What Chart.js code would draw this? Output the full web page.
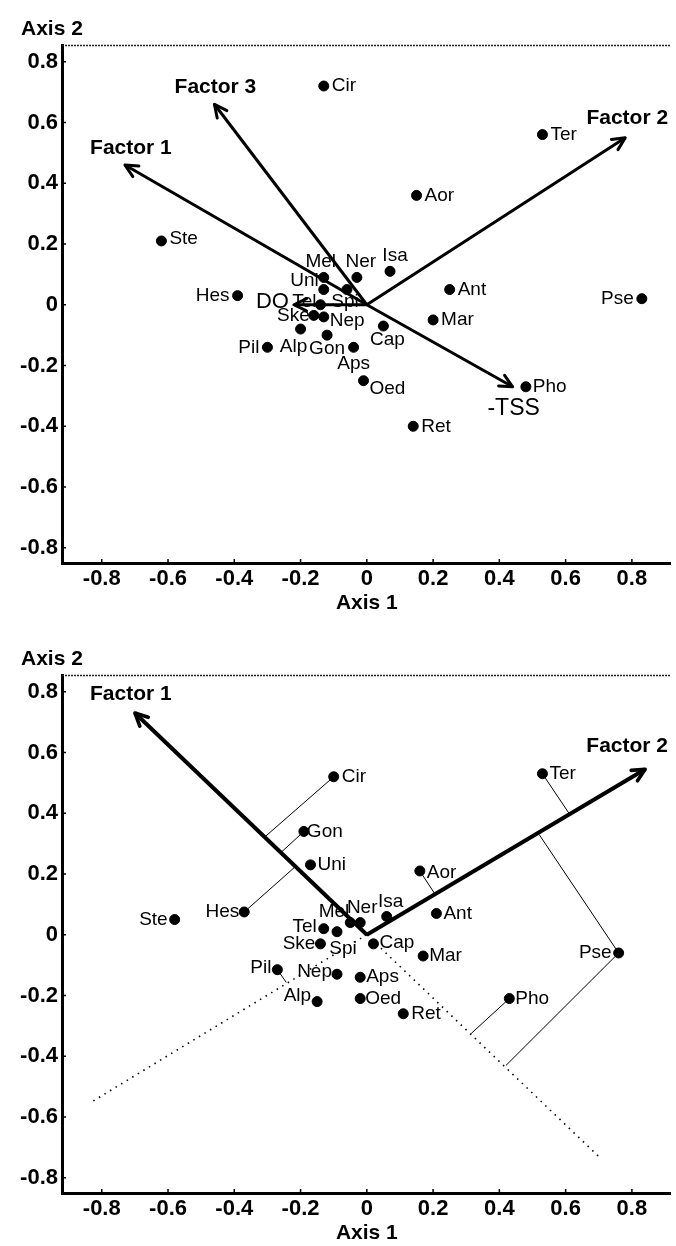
<!DOCTYPE html>
<html lang="en">
<head>
<meta charset="UTF-8">
<title>Ordination diagrams</title>
<script src="https://cdn.jsdelivr.net/npm/chart.js"></script>
<style>
  body { margin: 0; background: #fff; width: 676px; height: 1246px; overflow: hidden; position: relative; }
  .plot { position: absolute; left: 0; width: 676px; height: 616px; }
  #upper { top: 0; }
  #lower { top: 630px; }
</style>
</head>
<body>
<div class="plot" id="upper"><canvas id="upperChart" width="676" height="616"></canvas></div>
<div class="plot" id="lower"><canvas id="lowerChart" width="676" height="616"></canvas></div>

<script>
const FONT = '"Liberation Sans", Arial, sans-serif';

// shared tick values for both axes
const axisTicks = [-0.8, -0.6, -0.4, -0.2, 0, 0.2, 0.4, 0.6, 0.8];
const axisTickLabels = ['-0.8', '-0.6', '-0.4', '-0.2', '0', '0.2', '0.4', '0.6', '0.8'];

// upper diagram: taxa scores
const upperTaxa  = ['Cir', 'Ter', 'Aor', 'Ste', 'Isa', 'Mel', 'Ner', 'Uni', 'Spi', 'Hes', 'Tel', 'Ske', 'Nep', 'Alp', 'Gon', 'Pil', 'Cap', 'Aps', 'Oed', 'Ret', 'Pho', 'Ant', 'Mar', 'Pse'];
const upperAxis1 = [-0.13, 0.53, 0.15, -0.62, 0.07, -0.13, -0.03, -0.13, -0.06, -0.39, -0.14, -0.16, -0.13, -0.20, -0.12, -0.30, 0.05, -0.04, -0.01, 0.14, 0.48, 0.25, 0.20, 0.83];
const upperAxis2 = [0.72, 0.56, 0.36, 0.21, 0.11, 0.09, 0.09, 0.05, 0.05, 0.03, 0.00, -0.035, -0.04, -0.08, -0.10, -0.14, -0.07, -0.14, -0.25, -0.40, -0.27, 0.05, -0.05, 0.02];

// upper diagram: environmental / factor vectors
const upperVectors     = ['Factor 1', 'Factor 3', 'Factor 2', 'DO', '-TSS'];
const upperVectorAxis1 = [-0.73, -0.46, 0.78, -0.22, 0.44];
const upperVectorAxis2 = [0.46, 0.66, 0.55, 0.00, -0.27];

// lower diagram: taxa scores
const lowerTaxa  = ['Cir', 'Gon', 'Uni', 'Hes', 'Ste', 'Ter', 'Aor', 'Ant', 'Isa', 'Mel', 'Ner', 'Tel', 'Spi', 'Ske', 'Cap', 'Mar', 'Pse', 'Pil', 'Nep', 'Aps', 'Alp', 'Oed', 'Ret', 'Pho'];
const lowerAxis1 = [-0.10, -0.19, -0.17, -0.37, -0.58, 0.53, 0.16, 0.21, 0.06, -0.05, -0.02, -0.13, -0.09, -0.14, 0.02, 0.17, 0.76, -0.27, -0.09, -0.02, -0.15, -0.02, 0.11, 0.43];
const lowerAxis2 = [0.52, 0.34, 0.23, 0.075, 0.05, 0.53, 0.21, 0.07, 0.06, 0.04, 0.04, 0.02, 0.01, -0.03, -0.03, -0.07, -0.06, -0.115, -0.13, -0.14, -0.22, -0.21, -0.26, -0.21];

// lower diagram: factor vectors, their backward extensions and projections
const lowerVectors     = ['Factor 1', 'Factor 2'];
const lowerVectorAxis1 = [-0.70, 0.84];
const lowerVectorAxis2 = [0.73, 0.545];
const lowerTrailAxis1  = [0.70, -0.83];
const lowerTrailAxis2  = [-0.73, -0.55];
const lowerProjFrom    = ['Cir', 'Gon', 'Hes', 'Ter', 'Aor', 'Pse', 'Pse', 'Pho', 'Pil'];
const lowerProjAxis1   = [-0.31, -0.26, -0.215, 0.61, 0.205, 0.52, 0.42, 0.315, -0.243];
const lowerProjAxis2   = [0.32, 0.27, 0.225, 0.40, 0.135, 0.33, -0.43, -0.325, -0.157];

// label placement (pixel offsets from the marker) and fonts
const upperLabelAt = {
  Cir: [8, 0, 'left'], Ter: [8, 0, 'left'], Aor: [8, 0, 'left'], Ste: [8, -2, 'left'],
  Isa: [5, -16, 'center'], Mel: [-3, -16, 'center'], Ner: [4, -16, 'center'], Uni: [-5, -9, 'right'],
  Spi: [-2, 12, 'center'], Hes: [-8, 0, 'right'], Tel: [-4, -3, 'right'], Ske: [-4, 0, 'right'],
  Nep: [6, 4, 'left'], Alp: [-7, 18, 'center'], Gon: [0, 14, 'center'], Pil: [-8, 0, 'right'],
  Cap: [4, 14, 'center'], Aps: [0, 16, 'center'], Oed: [6, 8, 'left'], Ret: [8, 0, 'left'],
  Pho: [7, 0, 'left'], Ant: [8, 0, 'left'], Mar: [8, 0, 'left'], Pse: [-8, 0, 'right']
};
const lowerLabelAt = {
  Cir: [8, 0, 'left'], Gon: [3, 0, 'left'], Uni: [7, 0, 'left'], Hes: [-5, 0, 'right'],
  Ste: [-7, 0, 'right'], Ter: [7, 0, 'left'], Aor: [7, 2, 'left'], Ant: [7, 0, 'left'],
  Isa: [4, -15, 'center'], Mel: [-1, -11, 'right'], Ner: [2, -15, 'center'], Tel: [-7, -2, 'right'],
  Spi: [6, 17, 'center'], Ske: [-5, 0, 'right'], Cap: [6, -1, 'left'], Mar: [6, 0, 'left'],
  Pse: [-7, 0, 'right'], Pil: [-6, -2, 'right'], Nep: [-5, -2, 'right'], Aps: [6, -1, 'left'],
  Alp: [-6, -6, 'right'], Oed: [5, 0, 'left'], Ret: [8, 0, 'left'], Pho: [6, 0, 'left']
};
const upperVectorLabelAt = {
  'Factor 1': [6, -17, 'center', 'bold 21px'], 'Factor 3': [1, -17, 'center', 'bold 21px'],
  'Factor 2': [2, -19, 'center', 'bold 21px'], 'DO': [-5, -3, 'right', '22px'],
  '-TSS': [1, 22, 'center', '23px']
};
const lowerVectorLabelAt = {
  'Factor 1': [-4, -19, 'center', 'bold 21px'], 'Factor 2': [-18, -23, 'center', 'bold 21px']
};

const X_MIN = -0.92, X_MAX = 0.915, Y_MIN = -0.85, Y_MAX = 0.855;

function scaleOptions(isX) {
  return {
    type: 'linear',
    position: isX ? 'bottom' : 'left',
    min: isX ? X_MIN : Y_MIN,
    max: isX ? X_MAX : Y_MAX,
    afterBuildTicks: s => { s.ticks = axisTicks.map(v => ({ value: v })); },
    afterFit: s => { if (isX) s.height = 53; else s.width = 62; },
    grid: { display: false, drawTicks: false },
    border: { display: true, color: '#000', width: 3 },
    ticks: {
      color: '#000', autoSkip: false, maxRotation: 0,
      padding: isX ? 3 : 4,
      font: { family: FONT, size: 22, weight: 'bold' },
      callback: (v, i) => axisTickLabels[i]
    }
  };
}

function lineSet(points, width, dash) {
  return {
    data: points, showLine: true, borderColor: '#000', borderWidth: width,
    borderDash: dash || [], pointRadius: 0, pointHoverRadius: 0, order: 2
  };
}

// frame details, arrowheads, axis titles and text labels
function makeDecor(spec) {
  return {
    id: 'decor',
    beforeDatasetsDraw(chart) {
      const { ctx, chartArea: a } = chart;
      const sx = chart.scales.x, sy = chart.scales.y;
      ctx.save();
      ctx.strokeStyle = '#222';
      ctx.lineWidth = 1.5;
      ctx.setLineDash([2, 1]);
      ctx.beginPath();
      ctx.moveTo(a.left, a.top + 0.5);
      ctx.lineTo(a.right, a.top + 0.5);
      ctx.stroke();
      ctx.setLineDash([]);
      ctx.strokeStyle = '#000';
      axisTicks.forEach(v => {
        const px = sx.getPixelForValue(v), py = sy.getPixelForValue(v);
        ctx.beginPath();
        ctx.moveTo(px, a.bottom); ctx.lineTo(px, a.bottom - 4);
        ctx.moveTo(a.left, py); ctx.lineTo(a.left + 4, py);
        ctx.stroke();
      });
      ctx.restore();
    },
    afterDatasetsDraw(chart) {
      const { ctx } = chart;
      const sx = chart.scales.x, sy = chart.scales.y;
      const ox = sx.getPixelForValue(0), oy = sy.getPixelForValue(0);
      ctx.save();
      ctx.strokeStyle = '#000';
      ctx.fillStyle = '#000';
      ctx.lineCap = 'round';
      ctx.lineJoin = 'round';
      spec.vectors.forEach((name, i) => {
        const tx = sx.getPixelForValue(spec.vx[i]), ty = sy.getPixelForValue(spec.vy[i]);
        const ang = Math.atan2(ty - oy, tx - ox);
        ctx.lineWidth = spec.headWidth;
        ctx.beginPath();
        ctx.moveTo(tx - 14 * Math.cos(ang - 0.45), ty - 14 * Math.sin(ang - 0.45));
        ctx.lineTo(tx, ty);
        ctx.lineTo(tx - 14 * Math.cos(ang + 0.45), ty - 14 * Math.sin(ang + 0.45));
        ctx.stroke();
        const [dx, dy, align, font] = spec.vectorLabelAt[name];
        ctx.font = font + ' ' + FONT;
        ctx.textAlign = align;
        ctx.textBaseline = 'middle';
        ctx.fillText(name, tx + dx, ty + dy);
      });
      ctx.font = '19px ' + FONT;
      ctx.textBaseline = 'middle';
      spec.taxa.forEach((name, i) => {
        const px = sx.getPixelForValue(spec.tx[i]), py = sy.getPixelForValue(spec.ty[i]);
        const [dx, dy, align] = spec.labelAt[name];
        ctx.textAlign = align;
        ctx.fillText(name, px + dx, py + dy);
      });
      ctx.restore();
    },
    afterDraw(chart) {
      const { ctx, chartArea: a } = chart;
      ctx.save();
      ctx.fillStyle = '#000';
      ctx.font = 'bold 21px ' + FONT;
      ctx.textBaseline = 'middle';
      ctx.textAlign = 'left';
      ctx.fillText('Axis 2', 21, a.top - 16);
      ctx.textAlign = 'center';
      ctx.fillText('Axis 1', chart.scales.x.getPixelForValue(0), a.bottom + 40);
      ctx.restore();
    }
  };
}

function buildChart(canvasId, spec) {
  const taxaPoints = spec.taxa.map((n, i) => ({ x: spec.tx[i], y: spec.ty[i] }));
  const datasets = [{
    data: taxaPoints, backgroundColor: '#000', borderColor: '#000',
    pointRadius: 5, pointHoverRadius: 5, order: 0
  }];
  spec.vectors.forEach((n, i) => {
    datasets.push(lineSet([{ x: 0, y: 0 }, { x: spec.vx[i], y: spec.vy[i] }], spec.shaftWidth));
  });
  (spec.trails || []).forEach(t => datasets.push(lineSet(t, 1.6, [1.5, 5])));
  (spec.projections || []).forEach(p => datasets.push(lineSet(p, 1)));

  return new Chart(document.getElementById(canvasId).getContext('2d'), {
    type: 'scatter',
    data: { datasets },
    options: {
      responsive: false,
      animation: false,
      events: [],
      layout: { padding: { top: 45, left: 0, right: 0, bottom: 0 } },
      plugins: { legend: { display: false }, tooltip: { enabled: false } },
      scales: { x: scaleOptions(true), y: scaleOptions(false) }
    },
    plugins: [makeDecor(spec)]
  });
}

buildChart('upperChart', {
  taxa: upperTaxa, tx: upperAxis1, ty: upperAxis2, labelAt: upperLabelAt,
  vectors: upperVectors, vx: upperVectorAxis1, vy: upperVectorAxis2,
  vectorLabelAt: upperVectorLabelAt, shaftWidth: 3, headWidth: 3
});

const lowerIndex = name => lowerTaxa.indexOf(name);
buildChart('lowerChart', {
  taxa: lowerTaxa, tx: lowerAxis1, ty: lowerAxis2, labelAt: lowerLabelAt,
  vectors: lowerVectors, vx: lowerVectorAxis1, vy: lowerVectorAxis2,
  vectorLabelAt: lowerVectorLabelAt, shaftWidth: 4, headWidth: 3.6,
  trails: lowerTrailAxis1.map((x, i) => [{ x: 0, y: 0 }, { x: x, y: lowerTrailAxis2[i] }]),
  projections: lowerProjFrom.map((n, i) => [
    { x: lowerAxis1[lowerIndex(n)], y: lowerAxis2[lowerIndex(n)] },
    { x: lowerProjAxis1[i], y: lowerProjAxis2[i] }
  ])
});
</script>
</body>
</html>
